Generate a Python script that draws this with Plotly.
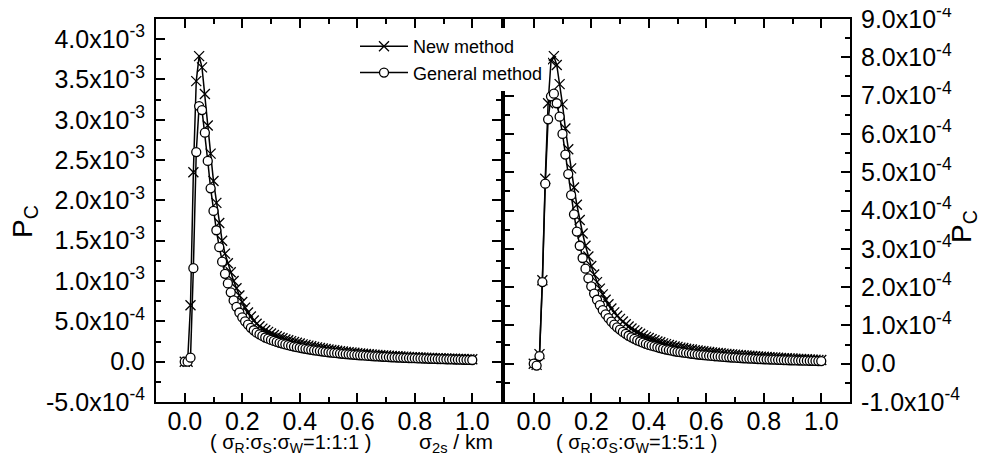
import plotly.graph_objects as go

# x grid: sigma_2s / km
x_grid = [round(i * 0.01, 2) for i in range(101)]

# Left panel (sigma_R:sigma_S:sigma_W = 1:1:1), values in units of 1e-3
left_new = [
    0, 0.0, 0.70, 2.35, 3.48, 3.79, 3.65, 3.32, 2.93, 2.58,
    2.24, 1.97, 1.72, 1.50, 1.34, 1.22, 1.11, 1.00, 0.91, 0.82,
    0.74, 0.67, 0.61, 0.56, 0.51, 0.47, 0.44, 0.41, 0.39, 0.37,
    0.35, 0.33, 0.315, 0.30, 0.29, 0.275, 0.265, 0.255, 0.245, 0.235,
    0.225, 0.215, 0.207, 0.199, 0.191, 0.184, 0.177, 0.17, 0.164, 0.158,
    0.152, 0.146, 0.141, 0.136, 0.131, 0.126, 0.122, 0.118, 0.114, 0.11,
    0.106, 0.102, 0.099, 0.096, 0.093, 0.09, 0.087, 0.084, 0.081, 0.078,
    0.076, 0.073, 0.071, 0.069, 0.067, 0.065, 0.063, 0.061, 0.059, 0.057,
    0.055, 0.053, 0.052, 0.05, 0.049, 0.047, 0.046, 0.044, 0.043, 0.042,
    0.04, 0.039, 0.038, 0.037, 0.036, 0.035, 0.034, 0.033, 0.032, 0.031, 0.03,
]
left_gen = [
    0, 0.0, 0.05, 1.16, 2.60, 3.17, 3.12, 2.84, 2.49, 2.15,
    1.87, 1.63, 1.42, 1.24, 1.09, 0.97, 0.86, 0.76, 0.68, 0.61,
    0.55, 0.50, 0.46, 0.42, 0.39, 0.36, 0.34, 0.32, 0.30, 0.285,
    0.27, 0.257, 0.245, 0.234, 0.224, 0.214, 0.205, 0.196, 0.188, 0.18,
    0.173, 0.166, 0.159, 0.153, 0.147, 0.141, 0.136, 0.131, 0.126, 0.121,
    0.117, 0.113, 0.109, 0.105, 0.101, 0.098, 0.094, 0.091, 0.088, 0.085,
    0.082, 0.079, 0.077, 0.074, 0.072, 0.069, 0.067, 0.065, 0.063, 0.061,
    0.059, 0.057, 0.055, 0.053, 0.052, 0.05, 0.048, 0.047, 0.045, 0.044,
    0.043, 0.041, 0.04, 0.039, 0.038, 0.036, 0.035, 0.034, 0.033, 0.032,
    0.031, 0.03, 0.029, 0.028, 0.027, 0.026, 0.025, 0.024, 0.023, 0.022, 0.021,
]

# Right panel (sigma_R:sigma_S:sigma_W = 1:5:1), values in units of 1e-4
right_new = [
    0, -0.03, 0.25, 2.18, 4.83, 6.80, 7.90, 8.03, 7.80, 7.30,
    6.77, 6.14, 5.60, 5.10, 4.60, 4.15, 3.75, 3.40, 3.08, 2.80,
    2.55, 2.33, 2.13, 1.96, 1.81, 1.67, 1.55, 1.44, 1.34, 1.25,
    1.17, 1.10, 1.03, 0.97, 0.92, 0.87, 0.82, 0.78, 0.74, 0.70,
    0.67, 0.64, 0.61, 0.58, 0.56, 0.53, 0.51, 0.49, 0.47, 0.45,
    0.44, 0.42, 0.41, 0.39, 0.38, 0.37, 0.355, 0.345, 0.335, 0.325,
    0.315, 0.305, 0.295, 0.287, 0.279, 0.271, 0.264, 0.257, 0.25, 0.243,
    0.236, 0.23, 0.224, 0.218, 0.212, 0.206, 0.2, 0.195, 0.19, 0.185,
    0.18, 0.175, 0.17, 0.165, 0.16, 0.155, 0.15, 0.146, 0.142, 0.138,
    0.134, 0.13, 0.126, 0.122, 0.118, 0.114, 0.11, 0.106, 0.102, 0.098, 0.095,
]
right_gen = [
    0, -0.05, 0.20, 2.13, 4.70, 6.38, 6.98, 7.05, 6.80, 6.45,
    6.00, 5.46, 4.95, 4.40, 3.90, 3.45, 3.08, 2.76, 2.48, 2.23,
    2.02, 1.83, 1.67, 1.53, 1.40, 1.29, 1.19, 1.10, 1.02, 0.95,
    0.89, 0.83, 0.78, 0.73, 0.69, 0.65, 0.61, 0.58, 0.55, 0.52,
    0.49, 0.47, 0.45, 0.43, 0.41, 0.39, 0.37, 0.355, 0.34, 0.325,
    0.31, 0.30, 0.29, 0.28, 0.27, 0.26, 0.25, 0.24, 0.232, 0.224,
    0.216, 0.209, 0.202, 0.195, 0.189, 0.183, 0.177, 0.171, 0.166, 0.161,
    0.156, 0.151, 0.146, 0.142, 0.138, 0.134, 0.13, 0.126, 0.122, 0.119,
    0.116, 0.113, 0.11, 0.107, 0.104, 0.101, 0.098, 0.095, 0.092, 0.09,
    0.088, 0.086, 0.084, 0.082, 0.08, 0.078, 0.076, 0.074, 0.072, 0.07, 0.068,
]

x_tickvals = [0.0, 0.2, 0.4, 0.6, 0.8, 1.0]
x_ticktext = ["0.0", "0.2", "0.4", "0.6", "0.8", "1.0"]

left_tickvals = [-5e-4, 0, 5e-4, 1e-3, 1.5e-3, 2e-3, 2.5e-3, 3e-3, 3.5e-3, 4e-3]
left_ticktext = ["-5.0x10<sup>-4</sup>", "0.0", "5.0x10<sup>-4</sup>",
                 "1.0x10<sup>-3</sup>", "1.5x10<sup>-3</sup>", "2.0x10<sup>-3</sup>",
                 "2.5x10<sup>-3</sup>", "3.0x10<sup>-3</sup>", "3.5x10<sup>-3</sup>",
                 "4.0x10<sup>-3</sup>"]
right_tickvals = [-1e-4, 0, 1e-4, 2e-4, 3e-4, 4e-4, 5e-4, 6e-4, 7e-4, 8e-4, 9e-4]
right_ticktext = ["-1.0x10<sup>-4</sup>", "0.0", "1.0x10<sup>-4</sup>", "2.0x10<sup>-4</sup>",
                  "3.0x10<sup>-4</sup>", "4.0x10<sup>-4</sup>", "5.0x10<sup>-4</sup>",
                  "6.0x10<sup>-4</sup>", "7.0x10<sup>-4</sup>", "8.0x10<sup>-4</sup>",
                  "9.0x10<sup>-4</sup>"]

FONT = "Liberation Sans, Arial, sans-serif"
# the page body has an 8px margin, so the figure is 984x467 and offset by 8px
W = 984.0
OFF = 8.0
PLOT_TOP = 19 - OFF
PLOT_BOT = 402 - OFF
PLOT_H = PLOT_BOT - PLOT_TOP


def px_x(page_x):
    return (page_x - OFF) / W


def px_y(page_y):
    return (PLOT_BOT - (page_y - OFF)) / PLOT_H


new_style = dict(mode="lines+markers", line=dict(color="black", width=1.5),
                 marker=dict(symbol="x-thin-open", size=10, color="black",
                             line=dict(color="black", width=1.3)))
gen_style = dict(mode="lines+markers", line=dict(color="black", width=1.5),
                 marker=dict(symbol="circle", size=9, color="white",
                             line=dict(color="black", width=1.3)))

fig = go.Figure()
fig.add_trace(go.Scatter(x=x_grid, y=[v * 1e-3 for v in left_new], name="New method",
                         xaxis="x", yaxis="y", legendgroup="n", **new_style))
fig.add_trace(go.Scatter(x=x_grid, y=[v * 1e-3 for v in left_gen], name="General method",
                         xaxis="x", yaxis="y", legendgroup="g", **gen_style))
fig.add_trace(go.Scatter(x=x_grid, y=[v * 1e-4 for v in right_new], name="New method",
                         xaxis="x2", yaxis="y2", legendgroup="n", showlegend=False, **new_style))
fig.add_trace(go.Scatter(x=x_grid, y=[v * 1e-4 for v in right_gen], name="General method",
                         xaxis="x2", yaxis="y2", legendgroup="g", showlegend=False, **gen_style))

axis_common = dict(showline=True, linecolor="black", linewidth=2, mirror="ticks",
                   ticks="inside", ticklen=9, tickwidth=1.5, tickcolor="black",
                   showgrid=False, zeroline=False, automargin=False,
                   ticklabeloverflow="allow",
                   tickfont=dict(family=FONT, size=25, color="black"))
minor_common = dict(ticks="inside", ticklen=5, tickwidth=1.5, tickcolor="black", tick0=0)

fig.update_layout(
    template="none",
    width=984, height=467,
    margin=dict(l=0, r=0, t=PLOT_TOP, b=467 - PLOT_BOT),
    paper_bgcolor="white", plot_bgcolor="white",
    font=dict(family=FONT, color="black"),
    xaxis=dict(domain=[px_x(156), px_x(501)], range=[-0.1, 1.1], anchor="y",
               tickvals=x_tickvals, ticktext=x_ticktext, ticklabelstandoff=-4,
               minor=dict(dtick=0.1, **minor_common), **axis_common),
    yaxis=dict(domain=[0, 1], range=[-5.0001e-4, 4.25e-3], anchor="x",
               tickvals=left_tickvals, ticktext=left_ticktext, ticklabelstandoff=4,
               minor=dict(dtick=2.5e-4, **minor_common), **axis_common),
    xaxis2=dict(domain=[px_x(505), px_x(850)], range=[-0.1, 1.1], anchor="y2",
                tickvals=x_tickvals, ticktext=x_ticktext, ticklabelstandoff=-4,
                minor=dict(dtick=0.1, **minor_common), **axis_common),
    yaxis2=dict(domain=[0, 1], range=[-1.0001e-4, 9.0001e-4], anchor="x2", side="right",
                tickvals=right_tickvals, ticktext=right_ticktext, ticklabelstandoff=4,
                minor=dict(dtick=0.5e-4, **minor_common), **axis_common),
    showlegend=True,
    legend=dict(x=px_x(355), y=px_y(28), xanchor="left", yanchor="top",
                bgcolor="white", borderwidth=0, itemwidth=48,
                font=dict(family=FONT, size=18, color="black"),
                tracegroupgap=0),
    annotations=[
        dict(text="P<sub>C</sub>", x=px_x(24), y=px_y(222), xref="paper", yref="paper",
             xanchor="center", yanchor="middle",
             textangle=-90, showarrow=False, font=dict(family=FONT, size=28, color="black")),
        dict(text="P<sub>C</sub>", x=px_x(963), y=px_y(227), xref="paper", yref="paper",
             xanchor="center", yanchor="middle",
             textangle=-90, showarrow=False, font=dict(family=FONT, size=28, color="black")),
        dict(text="( σ<sub>R</sub>:σ<sub>S</sub>:σ<sub>W</sub>=1:1:1 )",
             x=px_x(290), y=px_y(443), xref="paper", yref="paper",
             xanchor="center", yanchor="middle", showarrow=False,
             font=dict(family=FONT, size=20, color="black")),
        dict(text="σ<sub>2s</sub> / km", x=px_x(456), y=px_y(443),
             xref="paper", yref="paper", xanchor="center", yanchor="middle", showarrow=False,
             font=dict(family=FONT, size=21, color="black")),
        dict(text="( σ<sub>R</sub>:σ<sub>S</sub>:σ<sub>W</sub>=1:5:1 )",
             x=px_x(636), y=px_y(443), xref="paper", yref="paper",
             xanchor="center", yanchor="middle", showarrow=False,
             font=dict(family=FONT, size=20, color="black")),
    ],
)

fig.write_html("out.html")
